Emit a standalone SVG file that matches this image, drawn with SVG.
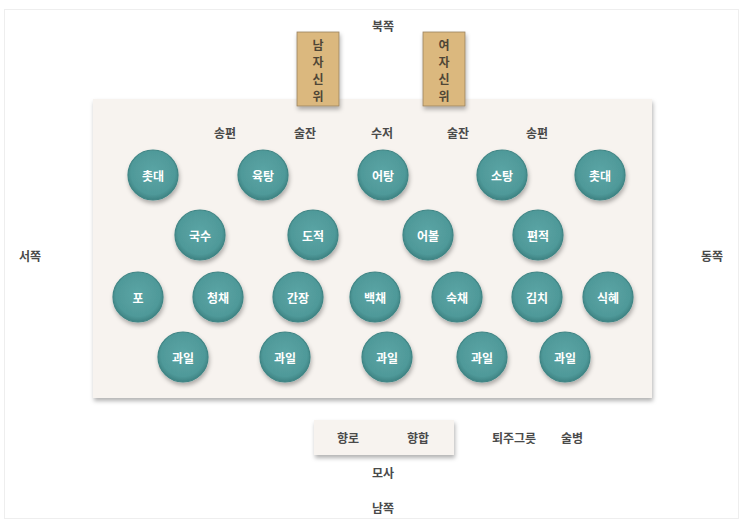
<svg xmlns="http://www.w3.org/2000/svg" width="743" height="530" viewBox="0 0 743 530">
<defs>
<style>
.t{font-family:"Noto Sans CJK KR","Noto Sans",sans-serif;font-size:12px;font-weight:700;fill:#4a4a4a;text-anchor:middle;dominant-baseline:central}
.w{font-family:"Noto Sans CJK KR","Noto Sans",sans-serif;font-size:12px;font-weight:700;fill:#ffffff;text-anchor:middle;dominant-baseline:central}
.v{font-family:"Noto Sans CJK KR","Noto Sans",sans-serif;font-size:12px;font-weight:700;fill:#4f4636;text-anchor:middle;dominant-baseline:central}
.c{fill:url(#g);stroke:#3f8585;stroke-width:1.2;filter:url(#sh)}
.tab{fill:#dbb87e;stroke:#9a8260;stroke-width:0.8;filter:url(#sh)}
</style>
<radialGradient id="g" cx="50%" cy="45%" r="55%">
<stop offset="0%" stop-color="#5ba5a5"/>
<stop offset="80%" stop-color="#4f9999"/>
<stop offset="100%" stop-color="#3d8282"/>
</radialGradient>
<filter id="sh" x="-20%" y="-20%" width="150%" height="150%">
<feDropShadow dx="1" dy="3" stdDeviation="2" flood-color="#000" flood-opacity="0.3"/>
</filter>
</defs>
<rect x="0" y="0" width="743" height="530" fill="#ffffff"/>
<rect x="4.5" y="9.5" width="734" height="509" fill="none" stroke="#eeeeee" stroke-width="1"/>
<g id="table"><rect x="93" y="99" width="559" height="299" fill="#f7f3ef" filter="url(#sh)"/></g>
<g id="incense-table"><rect x="314" y="420" width="140" height="35" fill="#f7f3ef" filter="url(#sh)"/></g>
<g id="tablet-male"><rect class="tab" x="297" y="32" width="42" height="74"/><text class="v" x="318" y="44">남</text><text class="v" x="318" y="61">자</text><text class="v" x="318" y="78">신</text><text class="v" x="318" y="95">위</text></g>
<g id="tablet-female"><rect class="tab" x="423" y="32" width="42" height="74"/><text class="v" x="444" y="44">여</text><text class="v" x="444" y="61">자</text><text class="v" x="444" y="78">신</text><text class="v" x="444" y="95">위</text></g>
<g id="labels">
<text class="t" x="383" y="25">북쪽</text>
<text class="t" x="30" y="255">서쪽</text>
<text class="t" x="712" y="255">동쪽</text>
<text class="t" x="383" y="507">남쪽</text>
<text class="t" x="383" y="472">모사</text>
<text class="t" x="348" y="437">향로</text>
<text class="t" x="418" y="437">향합</text>
<text class="t" x="514" y="437">퇴주그릇</text>
<text class="t" x="572" y="437">술병</text>
<text class="t" x="225" y="132">송편</text>
<text class="t" x="305" y="132">술잔</text>
<text class="t" x="382" y="132">수저</text>
<text class="t" x="458" y="132">술잔</text>
<text class="t" x="537" y="132">송편</text>
</g>
<g id="n1"><circle class="c" cx="153" cy="175" r="25"/><text class="w" x="153" y="175">촛대</text></g>
<g id="n2"><circle class="c" cx="263" cy="175" r="25"/><text class="w" x="263" y="175">육탕</text></g>
<g id="n3"><circle class="c" cx="383" cy="175" r="25"/><text class="w" x="383" y="175">어탕</text></g>
<g id="n4"><circle class="c" cx="502" cy="175" r="25"/><text class="w" x="502" y="175">소탕</text></g>
<g id="n5"><circle class="c" cx="600" cy="175" r="25"/><text class="w" x="600" y="175">촛대</text></g>
<g id="n6"><circle class="c" cx="200" cy="235" r="25"/><text class="w" x="200" y="235">국수</text></g>
<g id="n7"><circle class="c" cx="313" cy="235" r="25"/><text class="w" x="313" y="235">도적</text></g>
<g id="n8"><circle class="c" cx="428" cy="235" r="25"/><text class="w" x="428" y="235">어볼</text></g>
<g id="n9"><circle class="c" cx="538" cy="235" r="25"/><text class="w" x="538" y="235">편적</text></g>
<g id="n10"><circle class="c" cx="138" cy="297" r="25"/><text class="w" x="138" y="297">포</text></g>
<g id="n11"><circle class="c" cx="218" cy="297" r="25"/><text class="w" x="218" y="297">청채</text></g>
<g id="n12"><circle class="c" cx="298" cy="297" r="25"/><text class="w" x="298" y="297">간장</text></g>
<g id="n13"><circle class="c" cx="375" cy="297" r="25"/><text class="w" x="375" y="297">백채</text></g>
<g id="n14"><circle class="c" cx="457" cy="297" r="25"/><text class="w" x="457" y="297">숙채</text></g>
<g id="n15"><circle class="c" cx="537" cy="297" r="25"/><text class="w" x="537" y="297">김치</text></g>
<g id="n16"><circle class="c" cx="608" cy="297" r="25"/><text class="w" x="608" y="297">식혜</text></g>
<g id="n17"><circle class="c" cx="183" cy="357" r="25"/><text class="w" x="183" y="357">과일</text></g>
<g id="n18"><circle class="c" cx="285" cy="357" r="25"/><text class="w" x="285" y="357">과일</text></g>
<g id="n19"><circle class="c" cx="387" cy="357" r="25"/><text class="w" x="387" y="357">과일</text></g>
<g id="n20"><circle class="c" cx="482" cy="357" r="25"/><text class="w" x="482" y="357">과일</text></g>
<g id="n21"><circle class="c" cx="565" cy="357" r="25"/><text class="w" x="565" y="357">과일</text></g>
<g id="connectors"></g>
</svg>
